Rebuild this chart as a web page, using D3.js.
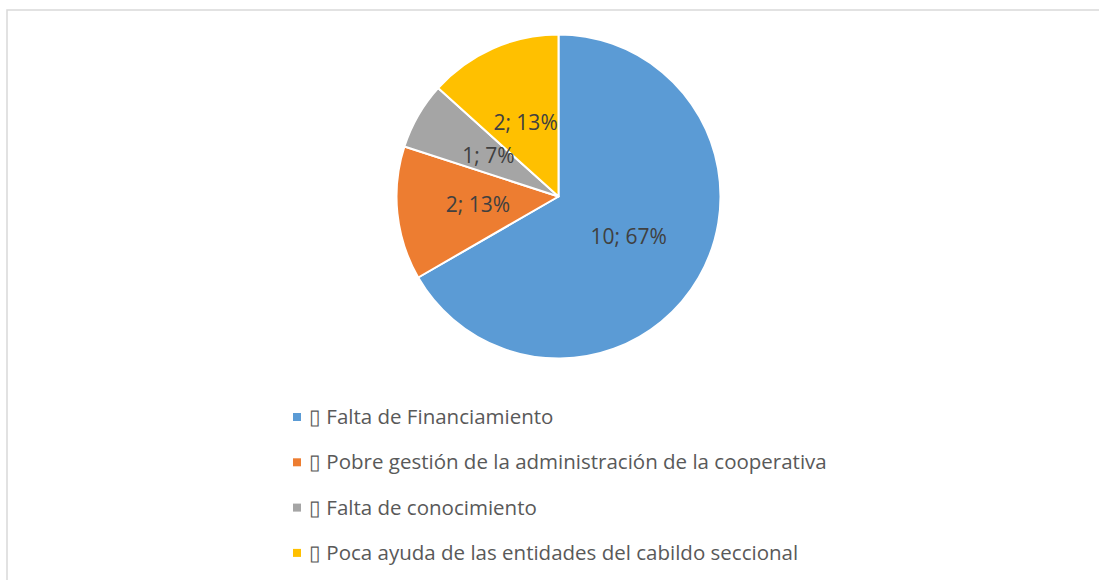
<!DOCTYPE html>
<html><head><meta charset="utf-8">
<script src="https://cdn.jsdelivr.net/npm/d3@7"></script>
<style>body{margin:0;background:#fff;}svg{display:block;}</style>
</head><body>
<svg id="c" width="1099" height="580"></svg>
<script>
const categories = ["Falta de Financiamiento","Pobre gestión de la administración de la cooperativa","Falta de conocimiento","Poca ayuda de las entidades del cabildo seccional"];
const values = [10, 2, 1, 2];
const percents = ["67%","13%","7%","13%"];
const colors = ["#5B9BD5","#ED7D31","#A5A5A5","#FFC000"];

const svg = d3.select("#c");
svg.append("rect").attr("x",7).attr("y",10).attr("width",1100).attr("height",600)
  .attr("fill","#fff").attr("stroke","#d9d9d9").attr("stroke-width",1.5);

const cx = 558.5, cy = 196.5, r = 162;
const pie = d3.pie().sort(null).value(d=>d);
const arcs = pie(values);
const arc = d3.arc().innerRadius(0).outerRadius(r);
const g = svg.append("g").attr("transform",`translate(${cx},${cy})`);
g.selectAll("path").data(arcs).join("path")
  .attr("d",arc).attr("fill",(d,i)=>colors[i])
  .attr("stroke","#fff").attr("stroke-width",2).attr("stroke-linejoin","round");
g.selectAll("text").data(arcs).join("text")
  .attr("transform",d=>`translate(${arc.centroid(d)})`)
  .attr("text-anchor","middle").attr("dy","0.35em")
  .attr("font-family","'Open Sans', 'Liberation Sans', sans-serif").attr("font-size",21)
  .attr("fill","#404040")
  .text((d,i)=>`${values[i]}; ${percents[i]}`);

const leg = svg.append("g");
const y0 = 417, step = 45.3;
categories.forEach((c,i)=>{
  const y = y0 + i*step;
  leg.append("rect").attr("x",293).attr("y",y-4).attr("width",8).attr("height",8).attr("fill",colors[i]);
  leg.append("text").attr("x",309).attr("y",y).attr("dy","0.35em")
    .attr("font-family","'Open Sans', 'Liberation Sans', sans-serif").attr("font-size",20.5)
    .attr("fill","#595959").text("\u25AF " + c);
});
</script>
</body></html>
